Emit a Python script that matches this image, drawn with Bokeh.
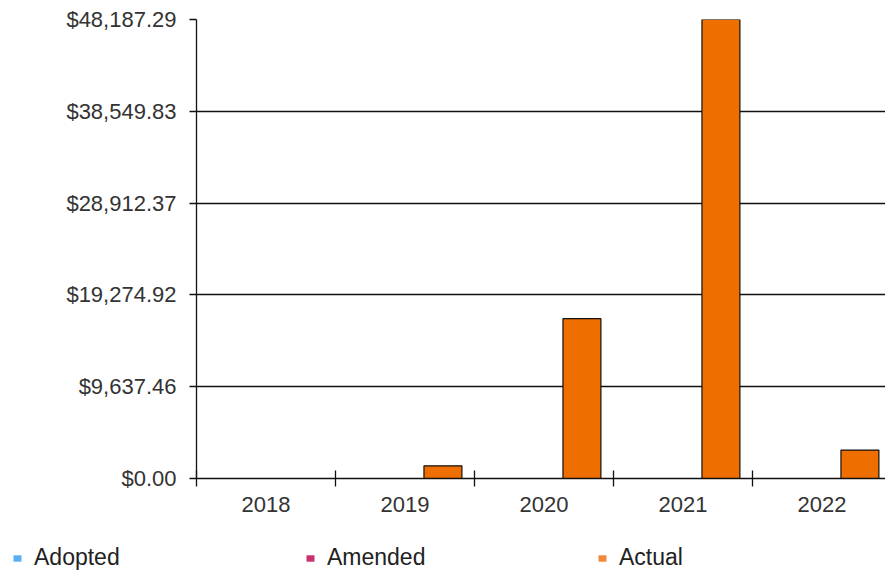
from bokeh.plotting import figure
from bokeh.layouts import column
from bokeh.models import (ColumnDataSource, Range1d, FixedTicker, NumeralTickFormatter,
                          Legend, LegendItem)
from bokeh.transform import dodge
from bokeh.embed import file_html
from bokeh.resources import INLINE

# ---- data ----
years = ["2018", "2019", "2020", "2021", "2022"]
adopted = [0, 0, 0, 0, 0]
amended = [0, 0, 0, 0, 0]
actual = [0, 1330, 16780, 48187.29, 2985]
y_ticks = [0, 9637.46, 19274.92, 28912.37, 38549.83, 48187.29]
series = ["Adopted", "Amended", "Actual"]
colors = ["#5aaef5", "#c8306e", "#f08a3a"]

x_center = [i + 0.5 for i in range(len(years))]
x_bounds = [i for i in range(len(years) + 1)]

src = ColumnDataSource(dict(x=x_center, adopted=adopted, amended=amended, actual=actual))

FONT = "Liberation Sans"
BAR_W = 0.273
W = 885
H_MAIN = 530
H_LEG = 45

p = figure(width=W, height=H_MAIN, output_backend="svg", toolbar_location=None,
           x_range=Range1d(0, 4.957), y_range=Range1d(0, max(y_ticks)),
           min_border_left=196, min_border_right=0, min_border_top=19,
           min_border_bottom=H_MAIN - 478)
p.frame_align = False
p.outline_line_color = None

p.vbar(x=dodge("x", -BAR_W, range=p.x_range), top="adopted", width=BAR_W,
       source=src, fill_color=colors[0], line_color=None)
p.vbar(x=dodge("x", 0, range=p.x_range), top="amended", width=BAR_W,
       source=src, fill_color=colors[1], line_color=None)
p.vbar(x=dodge("x", BAR_W, range=p.x_range), top="actual", width=BAR_W,
       source=src, fill_color="#ee6e00", line_color="#111111", line_width=1.2)

# x axis: labels at category centres, ticks at category boundaries (minor)
xa = p.xaxis[0]
xa.ticker = FixedTicker(ticks=x_center, minor_ticks=x_bounds)
xa.major_label_overrides = {c: y for c, y in zip(x_center, years)}
xa.major_tick_in = 0
xa.major_tick_out = 0
xa.minor_tick_in = 8
xa.minor_tick_out = 8
xa.minor_tick_line_color = "#111111"
xa.minor_tick_line_width = 1.3
xa.axis_line_color = "#111111"
xa.axis_line_width = 1.3
xa.major_label_text_font = FONT
xa.major_label_text_font_size = "22px"
xa.major_label_text_color = "#333333"
xa.major_label_standoff = 10

ya = p.yaxis[0]
ya.ticker = FixedTicker(ticks=y_ticks, minor_ticks=[])
ya.formatter = NumeralTickFormatter(format="$0,0.00")
ya.major_tick_in = 0
ya.major_tick_out = 7
ya.major_tick_line_color = "#111111"
ya.major_tick_line_width = 1.3
ya.axis_line_color = "#111111"
ya.axis_line_width = 1.3
ya.major_label_text_font = FONT
ya.major_label_text_font_size = "22px"
ya.major_label_text_color = "#333333"
ya.major_label_standoff = 13

p.xgrid.visible = False
p.ygrid.grid_line_color = "#111111"
p.ygrid.grid_line_width = 1.3
p.ygrid.ticker = FixedTicker(ticks=y_ticks)

# ---- legend strip ----
q = figure(width=W, height=H_LEG, output_backend="svg", toolbar_location=None,
           x_range=Range1d(0, 1), y_range=Range1d(0, 1),
           min_border_left=0, min_border_right=0, min_border_top=0, min_border_bottom=0)
q.frame_align = False
q.axis.visible = False
q.grid.visible = False
q.outline_line_color = None

legend_x = [12, 305, 597]
for name, col, lx in zip(series, colors, legend_x):
    # proxy swatch kept outside the visible range; only its legend entry shows
    r = q.vbar(x=[-5], top=[-5], bottom=[-6], width=0.1, fill_color=col, line_color=None)
    lg = Legend(items=[LegendItem(label=name, renderers=[r])], location=(lx, 4),
                glyph_width=10, glyph_height=8, label_standoff=12,
                padding=0, margin=0, spacing=0,
                border_line_color=None, background_fill_alpha=0,
                label_text_font=FONT, label_text_font_size="23px",
                label_text_color="#222222")
    q.add_layout(lg, "center")

layout = column(p, q, spacing=0)
open("out.html", "w").write(file_html(layout, INLINE))
